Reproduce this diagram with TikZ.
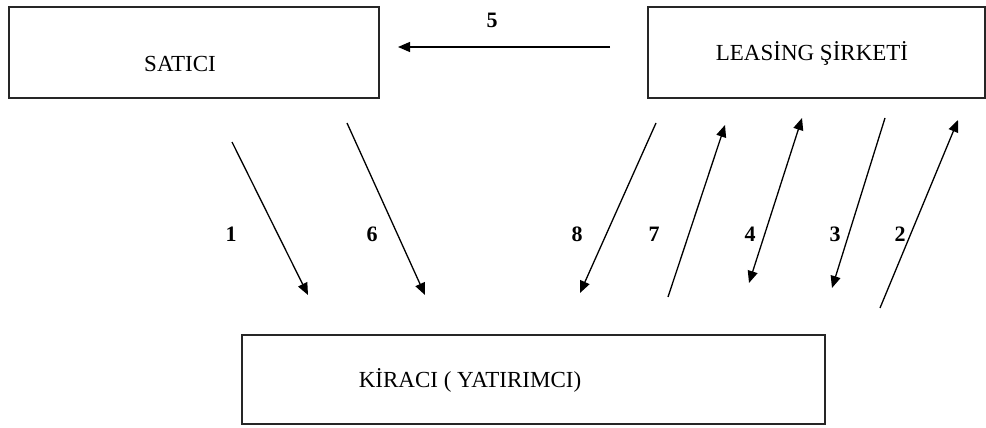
\documentclass[tikz,border=0pt]{standalone}
\usepackage{fontspec}
\setmainfont{Liberation Serif}
\usetikzlibrary{arrows.meta}

\begin{document}
\begin{tikzpicture}[
  x=1pt, y=-1pt,
  boxnode/.style={rectangle, draw=black!85, line width=1.6pt, inner sep=0pt, anchor=north west},
  namenode/.style={font=\fontsize{23}{26}\selectfont, inner sep=0pt},
  numnode/.style={font=\fontsize{22}{25}\selectfont\bfseries, inner sep=0pt},
  flow/.style={line width=1.3pt, -{Triangle[length=12pt, width=10pt]}},
]
  \useasboundingbox (0,0) rectangle (986,428);

  % Kutular
  \node[boxnode, minimum width=370pt, minimum height=91pt] (satici) at (8,6) {};
  \node[boxnode, minimum width=337pt, minimum height=91pt] (leasing) at (647,6) {};
  \node[boxnode, minimum width=583pt, minimum height=89pt] (kiraci) at (241,334) {};

  \node[namenode] (tsatici) at (180,64) {SATICI};
  \node[namenode] (tleasing) at (812,53) {LEASİNG ŞİRKETİ};
  \node[namenode] (tkiraci) at (470,380) {KİRACI ( YATIRIMCI)};

  % Ok uçları
  \coordinate (a5s) at (610,47);  \coordinate (a5e) at (398,47);
  \coordinate (a1s) at (232,142); \coordinate (a1e) at (308,295);
  \coordinate (a6s) at (347,123); \coordinate (a6e) at (425,295);
  \coordinate (a8s) at (656,123); \coordinate (a8e) at (580,293);
  \coordinate (a7s) at (668,297); \coordinate (a7e) at (725,125);
  \coordinate (a4s) at (749,283); \coordinate (a4e) at (802,118);
  \coordinate (a3s) at (885,118); \coordinate (a3e) at (832,288);
  \coordinate (a2s) at (880,308); \coordinate (a2e) at (958,120);

  \draw[flow] (a5s) -- (a5e);
  \draw[flow] (a1s) -- (a1e);
  \draw[flow] (a6s) -- (a6e);
  \draw[flow] (a8s) -- (a8e);
  \draw[flow] (a7s) -- (a7e);
  \draw[flow, {Triangle[length=12pt, width=10pt]}-{Triangle[length=12pt, width=10pt]}] (a4s) -- (a4e);
  \draw[flow] (a3s) -- (a3e);
  \draw[flow] (a2s) -- (a2e);

  % Numaralar
  \node[numnode] (n5) at (492,20) {5};
  \node[numnode] (n1) at (231,234) {1};
  \node[numnode] (n6) at (372,234) {6};
  \node[numnode] (n8) at (577,234) {8};
  \node[numnode] (n7) at (654,234) {7};
  \node[numnode] (n4) at (750,234) {4};
  \node[numnode] (n3) at (835,234) {3};
  \node[numnode] (n2) at (900,234) {2};

\end{tikzpicture}
\end{document}
